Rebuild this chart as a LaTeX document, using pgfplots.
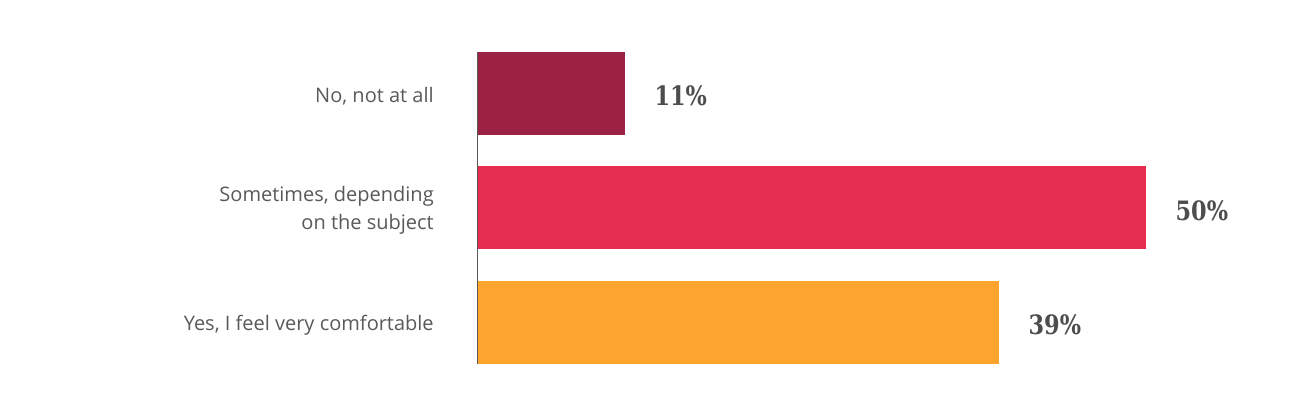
\documentclass[border=0pt]{standalone}
\usepackage{pgfplots}
\pgfplotsset{compat=1.18}
\usepackage{fontspec}
\setmainfont{Open Sans}
\newfontfamily\numfont[FakeStretch=0.84]{DejaVu Serif}

\definecolor{cNo}{HTML}{9C2243}
\definecolor{cSome}{HTML}{E52D50}
\definecolor{cYes}{HTML}{FCA42D}
\definecolor{labgray}{HTML}{595959}
\definecolor{valgray}{HTML}{4D4D4D}

\begin{document}
\begin{tikzpicture}
\begin{axis}[
    at={(0,0)}, anchor=south west,
    scale only axis,
    width=601.2pt, height=234pt,
    xbar, bar width=62.25pt, bar shift=0pt,
    xmin=0, xmax=60,
    ymin=-0.3624, ymax=2.3624,
    y dir=reverse,
    axis x line=none,
    axis y line=left,
    y axis line style={-, draw=black!65, line width=0.75pt},
    ytick={0,1,2},
    yticklabels={{No, not at all},{Sometimes, depending\\on the subject},{Yes, I feel very comfortable}},
    ytick style={draw=none},
    major tick length=0pt,
    yticklabel style={align=right, inner sep=0pt, xshift=-33pt, yshift=-2pt,
        font=\fontsize{15}{21}\selectfont, text=labgray},
    nodes near coords={\pgfmathprintnumber[assume math mode=true]{\pgfplotspointmeta}\%},
    point meta=x,
    every node near coord/.append style={anchor=west, inner sep=0pt, xshift=22pt, yshift=-2pt,
        font=\numfont\bfseries\fontsize{20}{24}\selectfont, text=valgray},
    clip=false,
]
\addplot[fill=cNo, draw=none] coordinates {(11,0)};
\addplot[fill=cSome, draw=none] coordinates {(50,1)};
\addplot[fill=cYes, draw=none] coordinates {(39,2)};
\end{axis}
\path[use as bounding box] (-358.5pt,-39.75pt) rectangle (610.5pt,273pt);
\end{tikzpicture}
\end{document}
